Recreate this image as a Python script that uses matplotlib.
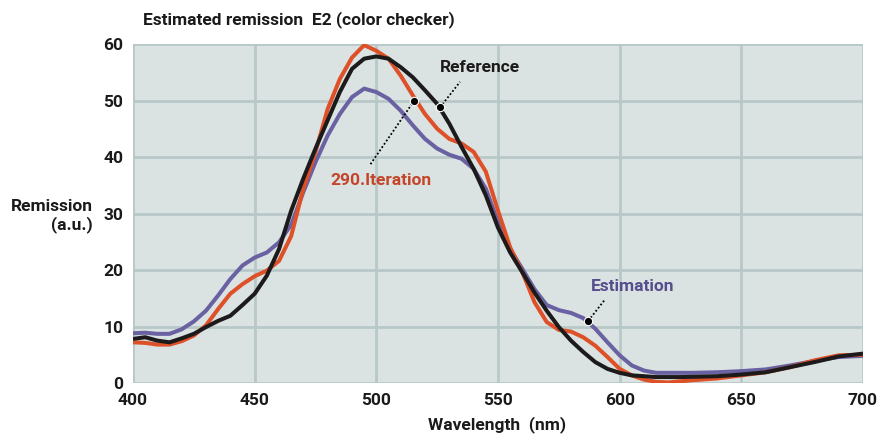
import matplotlib
matplotlib.use('Agg')
import matplotlib.pyplot as plt
from matplotlib import font_manager

# wavelength samples (nm)
wavelength = [400, 405, 410, 415, 420, 425, 430, 435, 440, 445, 450, 455, 460, 465, 470,
              475, 480, 485, 490, 495, 500, 505, 510, 515, 520, 525, 530, 535, 540, 545,
              550, 555, 560, 565, 570, 575, 580, 585, 590, 595, 600, 605, 610, 615, 620,
              625, 630, 640, 650, 660, 670, 680, 690, 700]

reference = [7.8, 8.1, 7.5, 7.2, 7.9, 8.7, 9.9, 11.0, 11.9, 13.8, 15.8, 19.0, 23.7, 30.5, 36.2,
             41.5, 46.5, 51.5, 55.6, 57.4, 57.8, 57.4, 55.9, 54.1, 51.8, 49.4, 45.9, 41.8, 37.9, 33.2,
             27.5, 23.1, 19.6, 16.0, 12.8, 9.9, 7.5, 5.5, 3.7, 2.5, 1.8, 1.35, 1.2, 1.05, 1.05,
             1.05, 1.1, 1.2, 1.5, 1.9, 2.8, 3.7, 4.7, 5.2]

estimation = [8.8, 8.9, 8.7, 8.7, 9.5, 10.9, 12.8, 15.5, 18.4, 20.8, 22.2, 23.1, 24.9, 28.0, 33.8,
              39.1, 43.8, 47.6, 50.6, 52.1, 51.5, 50.3, 48.2, 45.6, 43.2, 41.5, 40.4, 39.7, 37.9, 34.4,
              28.5, 23.7, 20.2, 16.6, 13.8, 12.9, 12.4, 11.5, 9.6, 7.2, 4.9, 3.1, 2.2, 1.8, 1.8,
              1.8, 1.8, 1.9, 2.1, 2.4, 3.1, 3.9, 4.6, 4.8]

iteration = [7.2, 7.1, 6.8, 6.8, 7.4, 8.4, 10.2, 13.1, 15.8, 17.5, 18.9, 19.9, 21.6, 26.0, 34.4,
             40.9, 48.5, 53.8, 57.6, 59.8, 58.8, 57.4, 54.4, 50.9, 47.6, 45.0, 43.2, 42.4, 40.9, 37.4,
             30.5, 24.0, 19.6, 14.3, 10.8, 9.4, 9.1, 8.1, 6.6, 4.6, 2.5, 1.35, 0.6, 0.2, 0.1,
             0.3, 0.5, 0.8, 1.35, 1.9, 2.8, 4.0, 4.9, 5.0]

xticks = [400, 450, 500, 550, 600, 650, 700]
yticks = [0, 10, 20, 30, 40, 50, 60]

installed = {f.name for f in font_manager.fontManager.ttflist}
main_font = 'Liberation Sans Narrow' if 'Liberation Sans Narrow' in installed else 'Roboto'
plt.rcParams['font.family'] = [main_font, 'DejaVu Sans']
plt.rcParams['font.weight'] = 'bold'

c_ref = '#1c1a1a'
c_est = '#6a61a2'
c_it = '#de5128'
c_grid = '#b8c8c8'
c_bg = '#dae3e2'

fig = plt.figure(figsize=(8.77, 4.36), dpi=100)
ax = fig.add_axes([133 / 877, 53 / 436, 730 / 877, 339 / 436])
ax.set_facecolor(c_bg)

ax.plot(wavelength, estimation, color=c_est, lw=2.9, solid_capstyle='butt', zorder=3)
ax.plot(wavelength, iteration, color=c_it, lw=2.9, solid_capstyle='butt', zorder=4)
ax.plot(wavelength, reference, color=c_ref, lw=2.9, solid_capstyle='butt', zorder=5)

ax.set_xlim(400, 700)
ax.set_ylim(0, 60)
ax.set_xticks(xticks)
ax.set_yticks(yticks)
ax.grid(True, color=c_grid, lw=2)
ax.set_axisbelow(True)
for s in ax.spines.values():
    s.set_visible(False)
ax.tick_params(length=0, labelsize=12.5, colors='#1a1a1a', pad=7)
for lbl in ax.get_xticklabels() + ax.get_yticklabels():
    lbl.set_fontweight('bold')

# labels with dotted leader lines ending in a dot on the curve
def leader(text, dot, end, text_pos, color):
    ax.plot([dot[0], end[0]], [dot[1], end[1]], color='black', lw=1.3,
            linestyle=(0, (1, 1.2)), zorder=7)
    ax.plot(*dot, 'o', color='black', ms=6, mec='white', mew=0.8, zorder=8)
    ax.text(*text_pos, text, color=color, fontsize=12.5, fontweight='bold',
            ha='center', va='center', zorder=7)

leader('Reference', (526.2, 48.8), (534.4, 53.3), (542.6, 55.8), '#1c1a1a')
leader('290.Iteration', (515.6, 50.0), (497.4, 38.6), (501.9, 35.9), '#c5452a')
leader('Estimation', (587.1, 11.0), (594.0, 14.8), (605.5, 17.0), '#564d8c')

fig.text(143 / 877, 1 - 20 / 436, 'Estimated remission  E2 (color checker)', fontsize=12.5,
         fontweight='bold', ha='left', va='center', color='#1a1a1a')
fig.text(93 / 877, 1 - 216 / 436, 'Remission\n(a.u.)', fontsize=12.5, fontweight='bold',
         ha='right', va='center', multialignment='right', color='#1a1a1a', linespacing=1.15)
fig.text(497 / 877, 1 - 425 / 436, 'Wavelength  (nm)', fontsize=12.5, fontweight='bold',
         ha='center', va='center', color='#1a1a1a')

fig.savefig('out.png', dpi=100, facecolor='white')
plt.close(fig)
